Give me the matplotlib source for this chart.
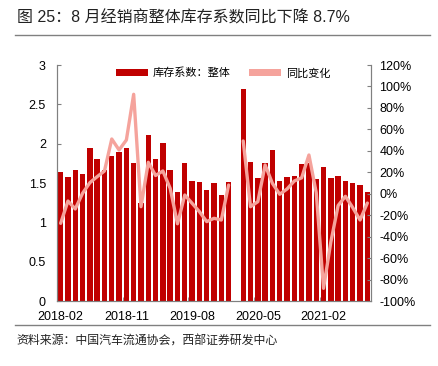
import matplotlib
matplotlib.use("Agg")
import matplotlib.pyplot as plt
import numpy as np
from matplotlib.patches import Patch
from matplotlib.lines import Line2D

plt.rcParams['font.family'] = ['Liberation Sans', 'Noto Sans CJK SC', 'DejaVu Sans']

months = ['2018-02','2018-03','2018-04','2018-05','2018-06','2018-07','2018-08','2018-09','2018-10','2018-11',
          '2018-12','2019-01','2019-02','2019-03','2019-04','2019-05','2019-06','2019-07','2019-08','2019-09',
          '2019-10','2019-11','2019-12','2020-01','2020-02','2020-03','2020-04','2020-05','2020-06','2020-07',
          '2020-08','2020-09','2020-10','2020-11','2020-12','2021-01','2021-02','2021-03','2021-04','2021-05',
          '2021-06','2021-07','2021-08']
inventory = [1.64, 1.57, 1.67, 1.61, 1.95, 1.80, 1.66, 1.84, 1.89, 1.94,
             1.75, 1.25, 2.11, 1.81, 2.01, 1.66, 1.39, 1.76, 1.52, 1.51,
             1.41, 1.50, 1.35, 1.51, np.nan, 2.69, 1.77, 1.56, 1.75, 1.92,
             1.52, 1.58, 1.59, 1.74, 1.76, 1.55, 1.70, 1.56, 1.59, 1.52,
             1.50, 1.47, 1.38]
yoy = [-27.6, -6.8, -14.2, 0.4, 10.3, 15.9, 21.2, 51.0, 40.8, 50.1,
       92.7, -12.1, 29.3, 17.0, 21.2, 5.0, -28.0, -1.2, -8.9, -16.7,
       -26.0, -22.9, -24.5, 8.1, np.nan, 49.2, -12.1, -7.4, 26.8, 9.7,
       -0.5, 4.4, 11.9, 14.8, 36.1, 1.0, -88.2, -45.0, -11.0, -2.4,
       -13.0, -24.5, -8.7]
left_ticks = [0, 0.5, 1, 1.5, 2, 2.5, 3]
left_labels = ['0', '0.5', '1', '1.5', '2', '2.5', '3']
right_ticks = [-100, -80, -60, -40, -20, 0, 20, 40, 60, 80, 100, 120]
right_labels = [f'{v}%' for v in right_ticks]
title = '图 25：8 月经销商整体库存系数同比下降 8.7%'
source = '资料来源：中国汽车流通协会，西部证券研发中心'
legend_labels = ['库存系数：整体', '同比变化']

bar_color = '#C00000'
line_color = '#F5A39C'
gray = '#808080'

fig = plt.figure(figsize=(4.38, 3.66), dpi=100)
ax = fig.add_axes([57/438, 1-301/366, (371-57)/438, (301-65)/366])
ax2 = ax.twinx()

x = np.arange(len(months))
ax.bar(x, inventory, width=0.74, color=bar_color, zorder=2)
ax2.plot(x, yoy, color=line_color, lw=2.4, solid_joinstyle='round', solid_capstyle='round', zorder=3)

ax.set_xlim(-0.5, len(months) - 0.5)
ax.set_ylim(0, 3)
ax2.set_ylim(-100, 120)
ax.set_yticks(left_ticks)
ax.set_yticklabels(left_labels)
ax2.set_yticks(right_ticks)
ax2.set_yticklabels(right_labels)

lab_idx = list(range(0, len(months), 9))
ax.set_xticks(lab_idx)
ax.set_xticklabels([months[i] for i in lab_idx])
ax.set_xticks([i - 0.5 for i in lab_idx[1:]], minor=True)
ax.tick_params(axis='x', which='major', length=0, labelsize=9, pad=7)
ax.tick_params(axis='x', which='minor', direction='in', length=3, color=gray)
ax.tick_params(axis='y', direction='in', length=3, color=gray, labelsize=9, pad=8)
ax2.tick_params(axis='y', direction='in', length=3, color=gray, labelsize=9, pad=6)

for a in (ax, ax2):
    a.spines['top'].set_visible(False)
    for s in ('left', 'right', 'bottom'):
        a.spines[s].set_color(gray)
        a.spines[s].set_linewidth(0.8)

handles = [Patch(facecolor=bar_color, edgecolor='none'),
           Patch(facecolor=line_color, edgecolor='none')]
leg = fig.legend(handles, legend_labels, loc='center', bbox_to_anchor=(223/438, 1-73/366),
                 ncol=2, frameon=False, handlelength=2.9, handleheight=0.6,
                 columnspacing=1.7, handletextpad=0.4,
                 prop={'family': ['Noto Sans CJK SC'], 'size': 8})

fig.text(17/438, 1-18/366, title, fontsize=11.5, va='center', ha='left',
         family=['Liberation Sans', 'Noto Sans CJK SC'], color='#222222')
fig.add_artist(Line2D([15/438, 430/438], [1-35/366, 1-35/366], color=gray, lw=1.0))
fig.add_artist(Line2D([15/438, 430/438], [1-325/366, 1-325/366], color=gray, lw=1.0))
fig.text(16/438, 1-341/366, source, fontsize=8.6, va='center', ha='left',
         family=['Noto Sans CJK SC'], color='#222222')

fig.savefig('out.png', dpi=100)
